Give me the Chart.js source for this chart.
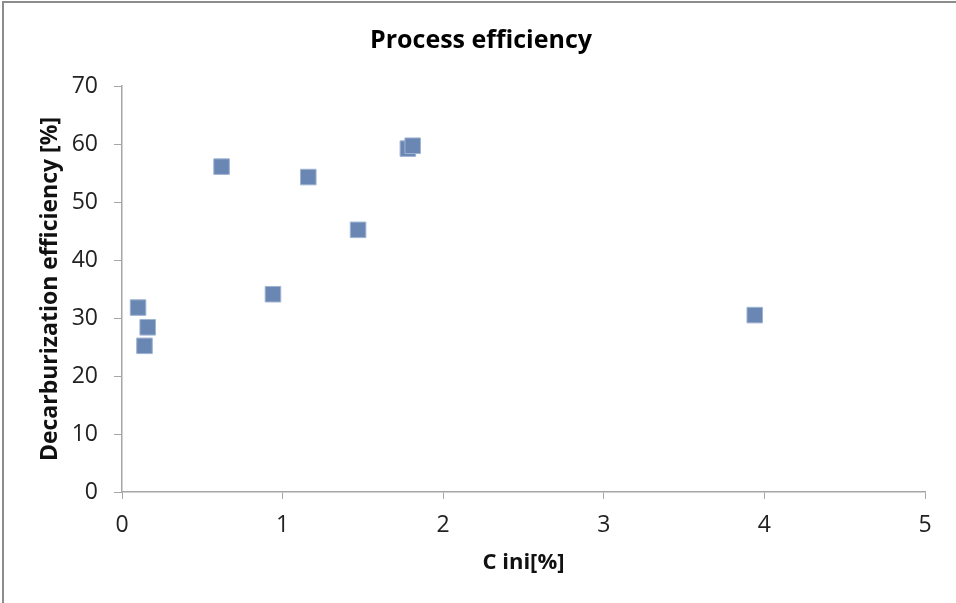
<!DOCTYPE html>
<html>
<head>
<meta charset="utf-8">
<script src="https://cdn.jsdelivr.net/npm/chart.js@4"></script>
<style>
  html, body { margin: 0; padding: 0; background: #fff; }
  #wrap { width: 956px; height: 603px; }
</style>
</head>
<body>
<div id="wrap"><canvas id="grafico" width="956" height="603"></canvas></div>
<script>
// valores
const cIni = [0.10, 0.16, 0.14, 0.62, 0.94, 1.16, 1.47, 1.78, 1.81, 3.94];
const eficiencia = [31.8, 28.4, 25.2, 56.1, 34.1, 54.3, 45.2, 59.2, 59.7, 30.5];
const xTicks = [0, 1, 2, 3, 4, 5];
const yTicks = [0, 10, 20, 30, 40, 50, 60, 70];

const fonte = "'Open Sans', sans-serif";
const pontos = cIni.map((x, i) => ({ x, y: eficiencia[i] }));

// moldura cinza (só topo e esquerda aparecem no recorte)
const moldura = {
    id: 'moldura',
    afterDraw(chart) {
        const ctx = chart.ctx;
        ctx.save();
        ctx.strokeStyle = '#8c8c8c';
        ctx.lineWidth = 2;
        ctx.beginPath();
        ctx.moveTo(3, 603);
        ctx.lineTo(3, 2);
        ctx.lineTo(956, 2);
        ctx.stroke();
        ctx.restore();
    }
};

new Chart(document.getElementById('grafico'), {
    type: 'scatter',
    data: {
        datasets: [{
            data: pontos,
            pointStyle: 'rect',
            radius: 11,
            hoverRadius: 11,
            backgroundColor: '#6a87b4',
            borderColor: '#9fb3d2',
            borderWidth: 1
        }]
    },
    options: {
        responsive: false,
        animation: false,
        layout: { padding: { left: 37, right: 31, top: 0, bottom: 0 } },
        plugins: {
            legend: { display: false },
            tooltip: { enabled: false },
            title: {
                display: true,
                text: 'Process efficiency',
                color: '#000',
                font: { family: fonte, size: 25, weight: 'bold', lineHeight: 1.2 },
                padding: { top: 26, bottom: 30 }
            }
        },
        scales: {
            x: {
                type: 'linear',
                min: 0, max: 5,
                afterBuildTicks: s => { s.ticks = xTicks.map(v => ({ value: v })); },
                afterFit: s => { s.height = 111; },
                grid: { drawOnChartArea: false, color: '#a6a6a6', tickLength: 7 },
                border: { color: '#a6a6a6', width: 1.5 },
                ticks: { color: '#222', padding: 13, font: { family: fonte, size: 23 } },
                title: {
                    display: true,
                    text: 'C ini[%]',
                    color: '#111',
                    font: { family: fonte, size: 22, weight: 'bold' },
                    padding: { top: 4, bottom: 27 }
                }
            },
            y: {
                type: 'linear',
                min: 0, max: 70,
                afterBuildTicks: s => { s.ticks = yTicks.map(v => ({ value: v })); },
                afterFit: s => { s.width = 85; },
                grid: { drawOnChartArea: false, color: '#a6a6a6', tickLength: 8 },
                border: { color: '#a6a6a6', width: 1.5 },
                ticks: { color: '#222', padding: 16, font: { family: fonte, size: 23 } },
                title: {
                    display: true,
                    text: 'Decarburization efficiency [%]',
                    color: '#111',
                    font: { family: fonte, size: 23, weight: 'bold' },
                    padding: { top: 0 }
                }
            }
        }
    },
    plugins: [moldura]
});
</script>
</body>
</html>
